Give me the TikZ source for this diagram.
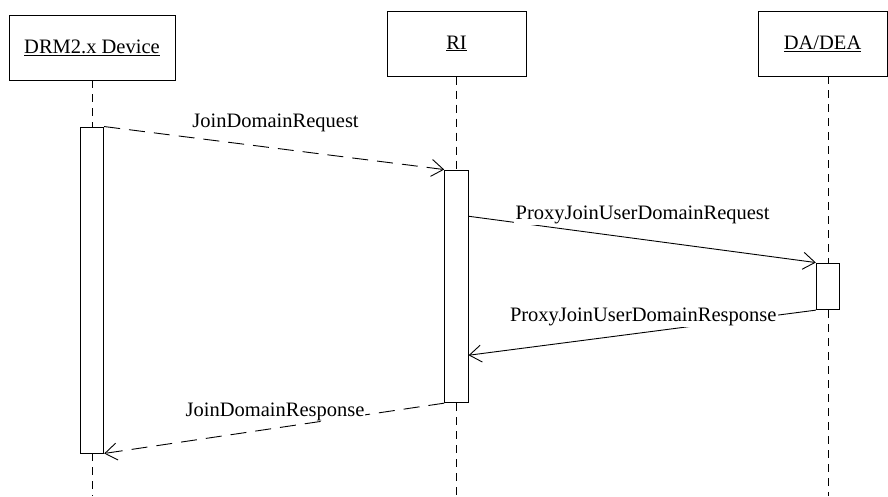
\documentclass[tikz,border=0pt]{standalone}
\usepackage{fontspec}
\setmainfont{Liberation Serif}
\usetikzlibrary{arrows.meta,calc}
\begin{document}
\begin{tikzpicture}[x=1pt,y=-1pt,
  every node/.style={font=\fontsize{20.5}{24}\selectfont},
  objline/.style={line width=0.9pt},
  actbar/.style={draw,line width=0.9pt,fill=white,rectangle,inner sep=0pt,minimum width=23.5pt},
  lifeline/.style={line width=0.9pt,dash pattern=on 8pt off 6pt},
  msgsync/.style={line width=0.9pt,-{Straight Barb[length=12pt,width=17pt,line width=0.9pt]}},
  msgret/.style={msgsync,dash pattern=on 16pt off 9pt},
  msglabel/.style={fill=white,inner sep=1.5pt,anchor=base west}]
\useasboundingbox (0,0) rectangle (888,496);
% objects
\draw[objline] (9.5,15.5) rectangle (175,80);
\node[inner sep=0pt,minimum width=166pt,minimum height=65pt] (dev) at (92,47.5) {\underline{DRM2.x Device}};
\draw[objline] (387.5,11) rectangle (526,76.3);
\node[inner sep=0pt,minimum width=139pt,minimum height=65.6pt] (ri) at (456.5,43.5) {\underline{RI}};
\draw[objline] (758,11) rectangle (887.6,76.3);
\node[inner sep=0pt,minimum width=130pt,minimum height=65.6pt] (da) at (822.6,43.5) {\underline{DA/DEA}};
% activation bars
\node[actbar,minimum height=326pt] (devbar) at (92,290) {};
\node[actbar,minimum height=232.7pt] (ribar) at (456.4,286.35) {};
\node[actbar,minimum height=46.7pt] (dabar) at (828,286.35) {};
% lifeline ends
\coordinate (devend) at (92,496);
\coordinate (riend) at (456.4,496);
\coordinate (daend) at (828,496);
\coordinate (datop) at (828,76.3);
% lifelines
\draw[lifeline] (dev.south) -- (devbar.north);
\draw[lifeline] (devbar.south) -- (devend);
\draw[lifeline] (ri.south -| ribar.north) -- (ribar.north);
\draw[lifeline] (ribar.south) -- (riend);
\draw[lifeline] (datop) -- (dabar.north);
\draw[lifeline] (dabar.south) -- (daend);
% messages
\draw[msgret] (devbar.north east) -- (ribar.north west);
\draw[msgsync] ($(ribar.north east)+(0,46.7)$) -- (dabar.north west);
\draw[msgsync] (dabar.south west) -- ($(ribar.north east)+(0,185.7)$);
\draw[msgret] (ribar.south west) -- (devbar.south east);
% labels
\node[msglabel] (l1) at (190.7,127.3) {JoinDomainRequest};
\node[msglabel] (l2) at (514,219.3) {ProxyJoinUserDomainRequest};
\node[msglabel] (l3) at (508.3,321) {ProxyJoinUserDomainResponse};
\node[msglabel,inner sep=0.5pt] (l4) at (185,416) {JoinDomainResponse};
\end{tikzpicture}
\end{document}
